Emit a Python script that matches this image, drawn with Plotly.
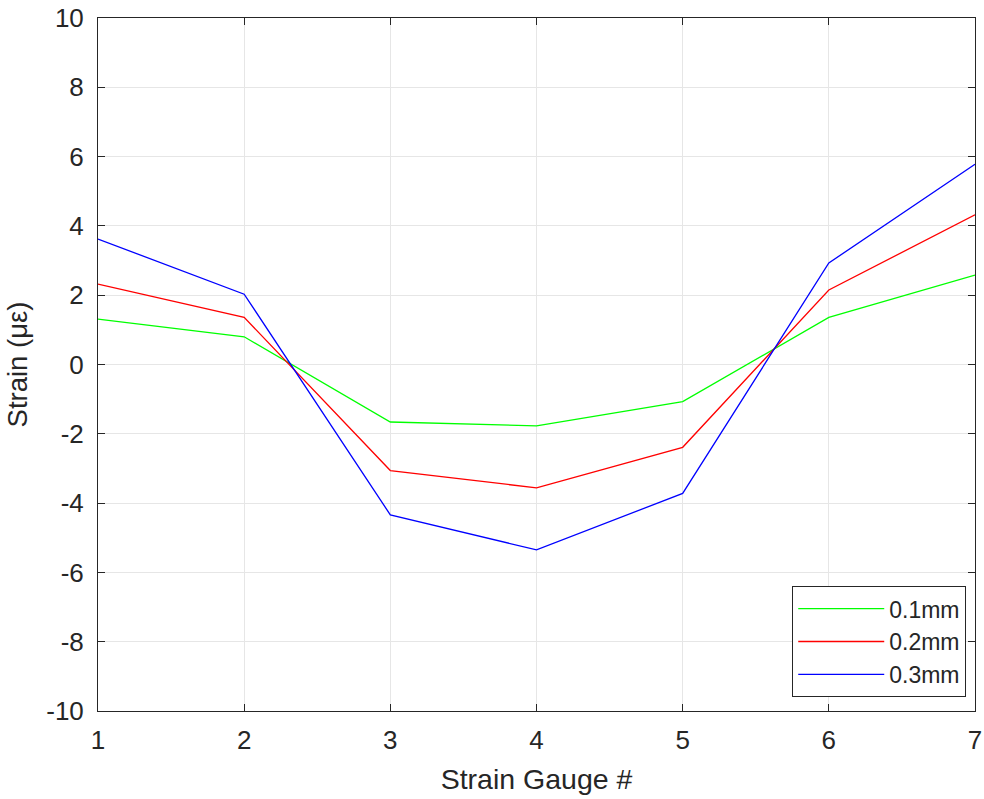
import plotly.graph_objects as go

gauges = [1, 2, 3, 4, 5, 6, 7]
s01 = [1.31, 0.80, -1.66, -1.77, -1.07, 1.36, 2.58]
s02 = [2.32, 1.36, -3.06, -3.56, -2.39, 2.15, 4.32]
s03 = [3.62, 2.03, -4.34, -5.35, -3.72, 2.93, 5.78]
names = ["0.1mm", "0.2mm", "0.3mm"]
colors = ["#00ff00", "#ff0000", "#0000ff"]
x_ticks = [1, 2, 3, 4, 5, 6, 7]
y_ticks = [-10, -8, -6, -4, -2, 0, 2, 4, 6, 8, 10]
y_ticklabels = ["-10", "-8", "-6", "-4", "-2", "0", "2", "4", "6", "8", "10"]

fig = go.Figure()
for i, (ys, nm, c) in enumerate(zip([s01, s02, s03], names, colors)):
    fig.add_trace(go.Scatter(x=gauges, y=ys, mode="lines", name=nm,
                             legendgroup=f"g{i}",
                             line=dict(color=c, width=1.3)))

axcol = "#262626"
axis_common = dict(showline=True, linecolor=axcol, linewidth=1, mirror="ticks",
                   ticks="inside", ticklen=7, tickcolor=axcol, tickwidth=1,
                   showgrid=True, gridcolor="#e6e6e6", gridwidth=1,
                   zeroline=False, automargin=False,
                   tickfont=dict(size=26, color=axcol))
fig.update_xaxes(range=[1, 7], tickvals=x_ticks, ticklabelstandoff=6,
                 title=dict(text="Strain Gauge #", font=dict(size=28.5, color=axcol), standoff=14),
                 **axis_common)
fig.update_yaxes(range=[-10, 10], tickvals=y_ticks, ticktext=y_ticklabels,
                 ticklabelstandoff=8,
                 title=dict(text="Strain (με)", font=dict(size=27.5, color=axcol), standoff=10),
                 **axis_common)

fig.update_layout(
    width=984, height=799,
    margin=dict(l=98, r=9, t=18, b=88),
    paper_bgcolor="white", plot_bgcolor="white",
    font=dict(family="Liberation Sans, Arial, sans-serif", color=axcol),
    legend=dict(x=0.99, y=0.02, xanchor="right", yanchor="bottom",
                bgcolor="white", bordercolor=axcol, borderwidth=1,
                itemwidth=86,
                font=dict(size=23, color=axcol), tracegroupgap=0),
    showlegend=True,
)
fig.write_html("out.html")
